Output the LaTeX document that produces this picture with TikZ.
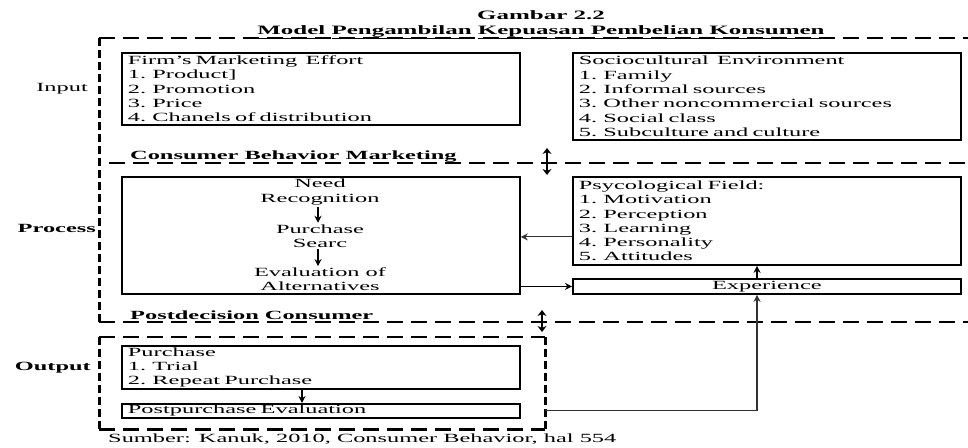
\documentclass[tikz,border=0pt]{standalone}
\usepackage{fontspec}
\setmainfont{Liberation Serif}[FakeStretch=1.95]
\usetikzlibrary{arrows.meta,calc}
\newcommand\ulw[1]{\underline{#1\vphantom{g}}}
\begin{document}
\begin{tikzpicture}[x=1pt,y=-1pt,
  every node/.style={font=\fontsize{12.5}{14.3}\selectfont, inner sep=0pt},
  solidbox/.style={draw, line width=1.8pt, anchor=north west, inner xsep=6pt},
  listbox/.style={solidbox, align=left, text width=#1},
  hdash/.style={line width=2.6pt, dash pattern=on 16pt off 8pt},
  vdash/.style={line width=3pt, dash pattern=on 8pt off 4pt},
  arr/.style={line width=1.2pt, -{Stealth[length=7pt,width=7pt]}},
  grayarr/.style={line width=1.1pt, black!80, -{Stealth[length=7pt,width=7pt]}},
  darr/.style={line width=1.3pt, {Stealth[length=6pt,width=9pt]}-{Stealth[length=6pt,width=9pt]}},
  head/.style={font=\fontsize{12.5}{15}\selectfont\bfseries, anchor=base west},
  side/.style={anchor=east},
  stepnode/.style={align=center, inner sep=1.5pt},
]
\useasboundingbox (0,0) rectangle (968,447);

% titles
\node[font=\fontsize{12.8}{14.3}\selectfont\bfseries] (fig) at (541,15) {Gambar 2.2};
\node[font=\fontsize{12.8}{14.3}\selectfont\bfseries] (title) at (541,32)
  {\ulw{Model} \ulw{Pengambilan} \ulw{Kepuasan} \ulw{Pembelian} \ulw{Konsumen}};

% dashed frame
\draw[hdash] (99,38) -- (968,38);
\draw[vdash] (99,38) -- (99,322);
\draw[hdash] (109,163) -- (968,163);
\draw[hdash] (99,322) -- (968,322);
\coordinate (obnw) at (99,337);
\node[anchor=north west, minimum width=446pt, minimum height=92pt] (outbox) at (obnw) {};
\draw[hdash] (outbox.north west) -- (outbox.north east);
\draw[hdash] (outbox.south west) -- (outbox.south east);
\draw[vdash] (outbox.north west) -- (outbox.south west);
\draw[vdash] (outbox.north east) -- (outbox.south east);

% side labels
\node[side] (inp) at (88,89) {Input};
\node[side, font=\fontsize{12.5}{14.3}\selectfont\bfseries] (procl) at (96,228) {Process};
\node[side, font=\fontsize{12.5}{14.3}\selectfont\bfseries] (outl) at (91,368) {Output};

% section headings
\node[head] (cbm) at (130,159) {Consumer Behavior Marketing};
\node[head] (pdc) at (130,319) {Postdecision Consumer};

% input boxes
\node[listbox=386pt, minimum height=72pt] (firm) at (121,52)
  {Firm's Marketing\ \ Effort\\1. Product]\\2. Promotion\\3. Price\\4. Chanels of distribution};
\node[listbox=376pt, minimum height=87pt] (socio) at (572,52)
  {Sociocultural\ \ Environment\\1. Family\\2. Informal sources\\3. Other noncommercial sources\\4. Social class\\5. Subculture and culture};

% process
\node[solidbox, minimum width=398pt, minimum height=117pt] (proc) at (121,176) {};
\node[stepnode] (need) at (320,192) {Need\\Recognition};
\node[stepnode] (search) at (320,236) {Purchase\\Searc};
\node[stepnode] (eval) at (320,279.5) {Evaluation of\\Alternatives};
\coordinate (ax) at (318,0);
\draw[arr] (need.south -| ax) -- (search.north -| ax);
\draw[arr] (search.south -| ax) -- (eval.north -| ax);

\node[listbox=376pt, minimum height=88pt] (psych) at (572,176)
  {Psycological Field:\\1. Motivation\\2. Perception\\3. Learning\\4. Personality\\5. Attitudes};
\node[solidbox, minimum width=388pt, minimum height=15pt, inner xsep=0pt] (exp) at (572,278) {Experience};

% output
\node[listbox=386pt, minimum height=43pt] (purch) at (121,345)
  {Purchase\\1. Trial\\2. Repeat Purchase};
\node[listbox=386pt, minimum height=14pt] (post) at (121,403) {Postpurchase Evaluation};

% connectors
\coordinate (vx) at (757,0);
\coordinate (px) at (302,0);
\draw[grayarr] ([yshift=-16pt]psych.west) -- ([yshift=-16pt]psych.west -| proc.east);
\draw[arr] (exp.west -| proc.east) -- (exp.west);
\draw[arr] (exp.north -| vx) -- (psych.south -| vx);
\draw[arr] (purch.south -| px) -- (post.north -| px);
\draw[grayarr] (outbox.east |- post.east) -| (exp.south -| vx);

% double arrows
\coordinate (d1a) at (547,148);
\coordinate (d1b) at (547,175);
\draw[darr] (d1a) -- (d1b);
\coordinate (d2a) at (542,310);
\coordinate (d2b) at (542,332);
\draw[darr] (d2a) -- (d2b);

% source
\node[anchor=base west] (src) at (108,442) {Sumber: Kanuk, 2010, Consumer Behavior, hal 554};
\end{tikzpicture}
\end{document}
